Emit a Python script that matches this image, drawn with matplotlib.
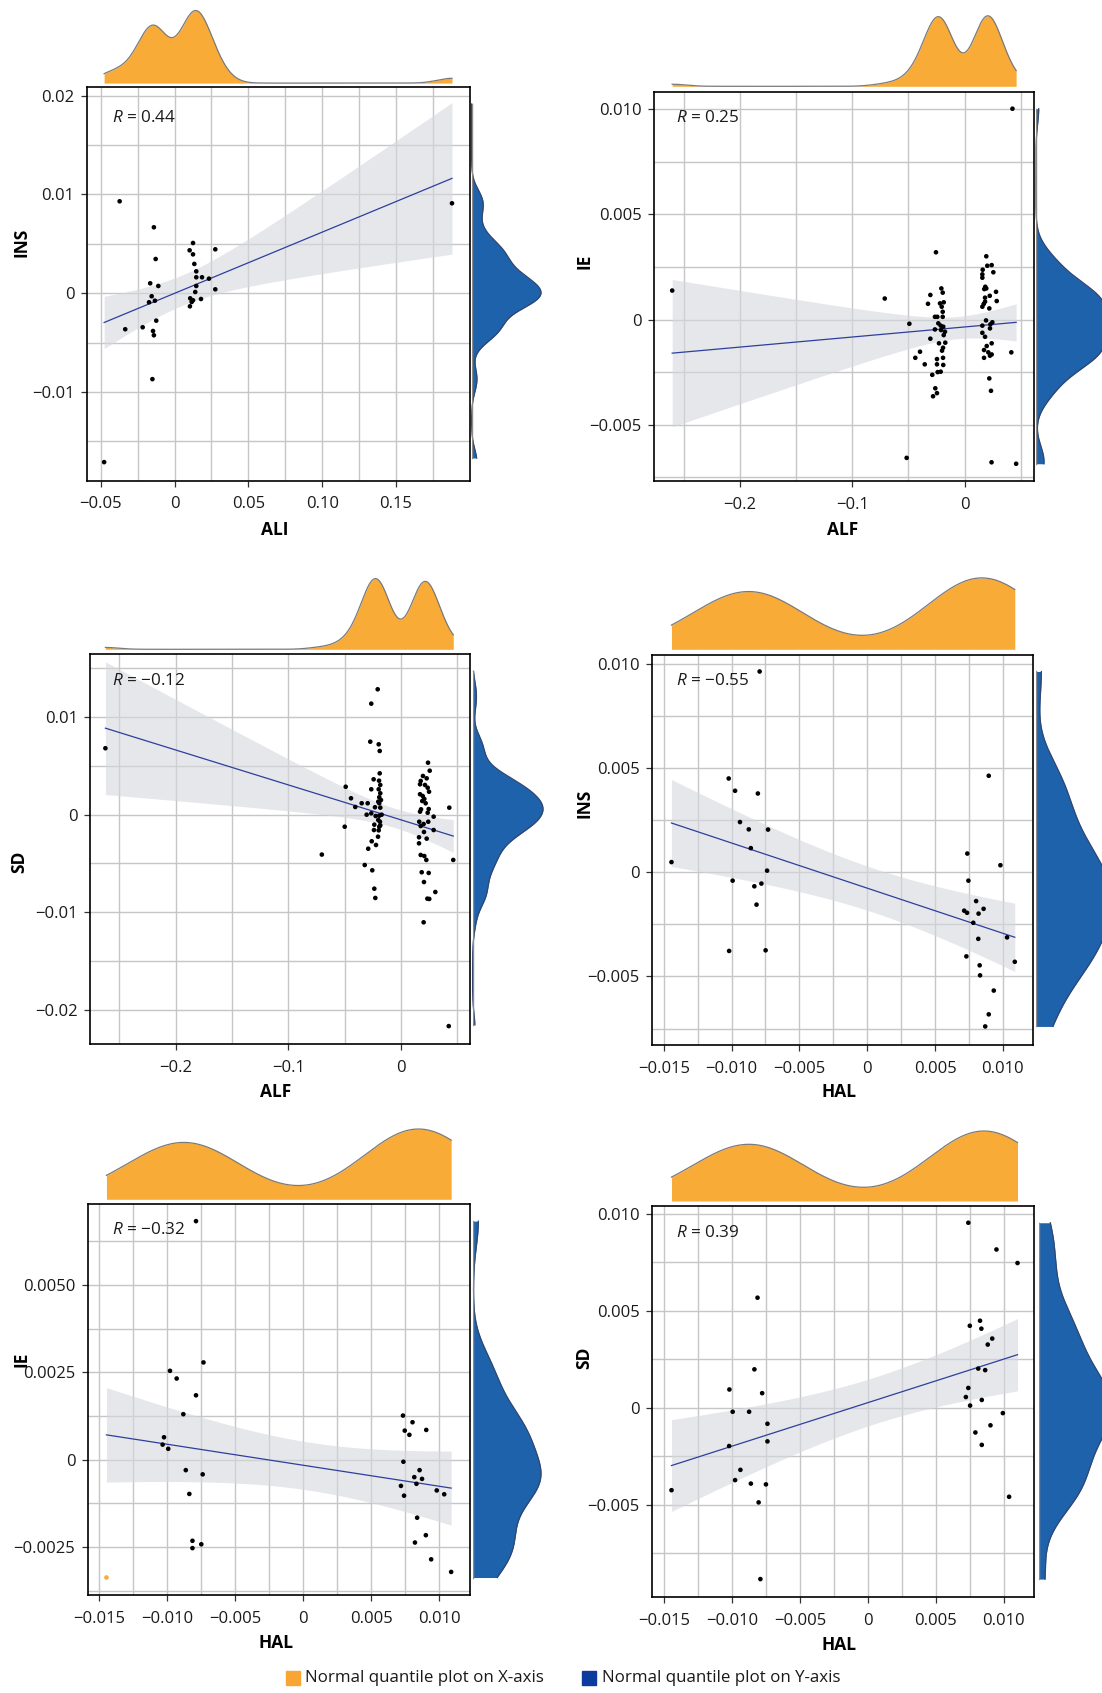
import numpy as np
import matplotlib
matplotlib.use("Agg")
import matplotlib.pyplot as plt
from matplotlib.patches import Rectangle

plt.rcParams['font.family'] = ['Open Sans', 'DejaVu Sans']
plt.rcParams['mathtext.fontset'] = 'custom'
plt.rcParams['mathtext.rm'] = 'Open Sans'
plt.rcParams['mathtext.it'] = 'Open Sans:italic'

# ---------------- data ----------------
# Panel 1: ALI vs INS
ali_p1 = [-0.0372, 0.1879, -0.0140, 0.0125, 0.0102, 0.0276, 0.0125, -0.0128, 0.0134, 0.0147,
          0.0147, 0.0186, 0.0233, -0.0165, -0.0110, 0.0147, 0.0276, 0.0140, -0.0155, 0.0106,
          0.0179, -0.0133, 0.0125, 0.0116, -0.0173, 0.0104, -0.0124, -0.0334, -0.0216, -0.0146,
          -0.0140, -0.0150, -0.0477]
ins_p1 = [0.0093, 0.0091, 0.00667, 0.00508, 0.00434, 0.00444, 0.00393, 0.00346, 0.00296, 0.00221,
          0.00161, 0.00161, 0.00147, 0.00100, 0.00073, 0.00073, 0.00039, 0.00012, -0.00031, -0.00052,
          -0.00059, -0.00076, -0.00072, -0.00089, -0.00092, -0.00133, -0.00278, -0.00365, -0.00345, -0.00383,
          -0.00426, -0.0087, -0.0171]

# Panel 2: ALF vs IE
alf_p2 = [-0.0255, -0.0207, -0.0195, -0.0305, -0.0326, -0.0219, -0.0186, -0.0204, -0.0195, -0.0264,
          -0.0243, -0.0195, -0.0492, -0.0234, -0.0213, -0.0190, -0.0264, -0.0210, -0.0175, -0.0186,
          -0.0305, -0.0228, -0.0172, -0.0192, -0.0201, -0.0397, -0.0439, -0.0246, -0.0192, -0.0355,
          -0.0246, -0.0190, -0.0240, -0.0213, -0.0288, -0.0261, -0.0246, -0.0281,
          0.0193, 0.0202, 0.0241, 0.0161, 0.0256, 0.0158, 0.0158, 0.0184, 0.0175, 0.0193,
          0.0280, 0.0224, 0.0182, 0.0286, 0.0182, 0.0170, 0.0158, 0.0220, 0.0191, 0.0247,
          0.0229, 0.0158, 0.0226, 0.0158, 0.0182, 0.0241, 0.0197, 0.0173, 0.0211, 0.0241,
          0.0226, 0.0173, 0.0416, 0.0220, 0.0235,
          -0.2604, -0.0711, 0.0426, -0.0516, 0.0240, 0.0459]
ie_p2 = [0.00320, 0.00148, 0.00128, 0.00117, 0.00075, 0.00077, 0.00082, 0.00061, 0.00037, 0.00013,
         0.00013, 0.00013, -0.00020, -0.00018, -0.00029, -0.00034, -0.00047, -0.00050, -0.00058, -0.00074,
         -0.00091, -0.00113, -0.00110, -0.00134, -0.00148, -0.00153, -0.00182, -0.00188, -0.00182, -0.00213,
         -0.00213, -0.00216, -0.00250, -0.00248, -0.00263, -0.00327, -0.00350, -0.00365,
         0.00301, 0.00256, 0.00259, 0.00237, 0.00225, 0.00215, 0.00199, 0.00156, 0.00145, 0.00148,
         0.00132, 0.00113, 0.00104, 0.00088, 0.00085, 0.00074, 0.00061, 0.00053, -0.00004, -0.00013,
         -0.00023, -0.00029, -0.00042, -0.00063, -0.00082, -0.00113, -0.00126, -0.00145, -0.00156, -0.00166,
         -0.00172, -0.00182, -0.00156, -0.00280, -0.00339,
         0.00138, 0.00100, 0.01003, -0.00658, -0.00679, -0.00686]

# Panel 3: ALF vs SD
alf_p3 = [-0.0206, -0.0263, -0.0272, -0.0197, -0.0188, 0.0241, 0.0256, -0.0188, 0.0196, 0.0229,
          -0.0242, -0.0194, 0.0176, 0.0170, 0.0214, -0.0183, -0.0490, 0.0238, -0.0263, -0.0197,
          0.0250, -0.0183, 0.0170, 0.0194, -0.0192, -0.0443, 0.0208, -0.0177, -0.0201, -0.0348,
          -0.0295, -0.0192, 0.0190, 0.0220, -0.0405, -0.0230, -0.0183, 0.0430, 0.0179, 0.0247,
          0.0170, 0.0238, -0.0304, -0.0263, -0.0224, -0.0171, -0.0192, 0.0291, -0.0201, 0.0163,
          -0.0186, 0.0243, 0.0202, -0.0236, -0.0183, -0.0499, 0.0176, -0.0192, -0.0239, 0.0291,
          -0.0197, 0.0205, -0.0203, 0.0161, 0.0229, -0.0259, 0.0161, -0.0221, -0.0290, 0.0176,
          0.0208, 0.0226, 0.0465, -0.0321, -0.0254, 0.0185, 0.0247, 0.0205, 0.0306, -0.0236,
          0.0235, 0.0252, -0.0227, 0.0202, -0.2624, -0.0702, 0.0425]
sd_p3 = [0.01282, 0.01135, 0.00746, 0.00719, 0.00651, 0.00531, 0.00449, 0.00422, 0.00395, 0.00371,
         0.00361, 0.00347, 0.00344, 0.00310, 0.00303, 0.00303, 0.00285, 0.00275, 0.00259, 0.00259,
         0.00234, 0.00218, 0.00208, 0.00190, 0.00177, 0.00167, 0.00160, 0.00149, 0.00132, 0.00116,
         0.00116, 0.00116, 0.00139, 0.00116, 0.00078, 0.00075, 0.00071, 0.00071, 0.00054, 0.00057,
         0.00030, 0.00019, -0.00001, 0.00013, -0.00014, -0.00001, -0.00011, -0.00021, -0.00055, -0.00073,
         -0.00073, -0.00073, -0.00096, -0.00103, -0.00110, -0.00124, -0.00117, -0.00124, -0.00158, -0.00158,
         -0.00161, -0.00178, -0.00226, -0.00232, -0.00246, -0.00273, -0.00294, -0.00311, -0.00349, -0.00413,
         -0.00424, -0.00464, -0.00464, -0.00516, -0.00570, -0.00590, -0.00597, -0.00690, -0.00792, -0.00758,
         -0.00860, -0.00863, -0.00853, -0.01102, 0.00679, -0.00409, -0.02164]

# Panel 4: HAL vs INS
hal_p4 = [-0.01443, -0.01021, -0.00974, -0.00806, -0.00938, -0.00873, -0.00731, -0.00858, -0.00738, -0.00992,
          -0.00832, -0.00780, -0.00816, -0.01018, -0.00749, -0.00793,
          0.00896, 0.00738, 0.00982, 0.00746, 0.00803, 0.00715, 0.00736, 0.00821, 0.00858, 0.00782,
          0.00819, 0.01031, 0.00731, 0.01088, 0.00829, 0.00832, 0.00933, 0.00896, 0.00870]
ins_p4 = [0.00048, 0.00449, 0.00390, 0.00377, 0.00240, 0.00205, 0.00204, 0.00115, 0.00007, -0.00041,
          -0.00068, -0.00055, -0.00156, -0.00378, -0.00375, 0.00962,
          0.00462, 0.00089, 0.00033, -0.00041, -0.00139, -0.00185, -0.00195, -0.00199, -0.00176, -0.00243,
          -0.00320, -0.00313, -0.00404, -0.00430, -0.00447, -0.00495, -0.00568, -0.00682, -0.00740]

# Panel 5: HAL vs IE (first point is drawn in orange in the original)
hal_p5 = [-0.01446, -0.00788, -0.00733, -0.00979, -0.00930, -0.00788, -0.00881, -0.01023, -0.01033, -0.00992,
          -0.00863, -0.00739, -0.00837, -0.00814, -0.00814, -0.00749,
          0.00733, 0.00803, 0.00746, 0.00904, 0.00780, 0.00736, 0.00855, 0.00816, 0.00873, 0.00832,
          0.00718, 0.00741, 0.00981, 0.01036, 0.00837, 0.00901, 0.00821, 0.00940, 0.01087]
ie_p5 = [-0.00337, 0.00682, 0.00278, 0.00254, 0.00232, 0.00184, 0.00130, 0.00064, 0.00043, 0.00031,
         -0.00030, -0.00042, -0.00098, -0.00232, -0.00253, -0.00242,
         0.00126, 0.00107, 0.00083, 0.00085, 0.00071, -0.00006, -0.00030, -0.00050, -0.00055, -0.00069,
         -0.00075, -0.00103, -0.00088, -0.00099, -0.00166, -0.00216, -0.00237, -0.00285, -0.00321]
p5_highlight = [0]

# Panel 6: HAL vs SD
hal_p6 = [-0.01445, -0.01019, -0.00995, -0.01021, -0.00977, -0.00938, -0.00874, -0.00861, -0.00835, -0.00812,
          -0.00804, -0.00791, -0.00778, -0.00750, -0.00739, -0.00739,
          0.00739, 0.00946, 0.01101, 0.00825, 0.00750, 0.00835, 0.00915, 0.00882, 0.00812, 0.00863,
          0.00739, 0.00721, 0.00752, 0.00838, 0.00993, 0.00902, 0.00791, 0.00838, 0.01039]
sd_p6 = [-0.00426, 0.00094, -0.00021, -0.00198, -0.00374, -0.00321, -0.00021, -0.00392, 0.00198, 0.00568,
         -0.00489, -0.00885, 0.00075, -0.00396, -0.00083, -0.00174,
         0.00955, 0.00817, 0.00747, 0.00449, 0.00423, 0.00408, 0.00357, 0.00326, 0.00202, 0.00194,
         0.00102, 0.00055, 0.00011, 0.00040, -0.00028, -0.00091, -0.00128, -0.00192, -0.00460]

r_labels = ["0.44", "0.25", "\u22120.12", "\u22120.55", "\u22120.32", "0.39"]
x_names = ["ALI", "ALF", "ALF", "HAL", "HAL", "HAL"]
y_names = ["INS", "IE", "SD", "INS", "IE", "SD"]

xt_ali = [-0.05, 0, 0.05, 0.10, 0.15]
xl_ali = ["\u22120.05", "0", "0.05", "0.10", "0.15"]
xt_alf = [-0.2, -0.1, 0]
xl_alf = ["\u22120.2", "\u22120.1", "0"]
xt_hal = [-0.015, -0.010, -0.005, 0, 0.005, 0.010]
xl_hal = ["\u22120.015", "\u22120.010", "\u22120.005", "0", "0.005", "0.010"]
yt_01 = [-0.02, -0.01, 0, 0.01, 0.02]
yl_01 = ["\u22120.02", "\u22120.01", "0", "0.01", "0.02"]
yt_005 = [-0.005, 0, 0.005, 0.010]
yl_005 = ["\u22120.005", "0", "0.005", "0.010"]
yt_0025 = [-0.0025, 0, 0.0025, 0.0050]
yl_0025 = ["\u22120.0025", "0", "0.0025", "0.0050"]

legend_labels = ["Normal quantile plot on X-axis", "Normal quantile plot on Y-axis"]

# ---------------- styling / layout ----------------
ORANGE = "#F9AB37"
BLUE = "#1F62AC"
LINE = "#2F3E9E"
GRID = "#C6C6C6"
W, H = 1102, 1693

fig = plt.figure(figsize=(W / 100, H / 100), dpi=100)


def rect(x0, y0, x1, y1):
    return [x0 / W, 1 - y1 / H, (x1 - x0) / W, (y1 - y0) / H]


def bw_nrd0(v):
    v = np.asarray(v)
    sd = v.std(ddof=1)
    q75, q25 = np.percentile(v, [75, 25])
    lo = min(sd, (q75 - q25) / 1.34)
    return 0.9 * lo * len(v) ** (-0.2)


def kde(v, grid):
    v = np.asarray(v)
    h = bw_nrd0(v)
    d = (grid[:, None] - v[None, :]) / h
    return np.exp(-0.5 * d ** 2).sum(axis=1) / (len(v) * h * np.sqrt(2 * np.pi))


def t975(df):
    z = 1.959964
    return (z + (z ** 3 + z) / (4 * df) + (5 * z ** 5 + 16 * z ** 3 + 3 * z) / (96 * df ** 2)
            + (3 * z ** 7 + 19 * z ** 5 + 17 * z ** 3 - 15 * z) / (384 * df ** 3))


def minors(ticks, lim):
    step = ticks[1] - ticks[0]
    m = np.arange(ticks[0] - step / 2, lim[1] + step, step)
    return [v for v in m if lim[0] < v < lim[1]]


panels = [
    dict(x=ali_p1, y=ins_p1, xt=xt_ali, xl=xl_ali, yt=yt_01, yl=yl_01,
         box=(87, 86.6, 470, 480.5), xlim=(-0.0593, 0.2001), ylim=(-0.01896, 0.02091),
         top=(10.5, 83.1), right=(471.6, 541), rng=(-0.01668, 0.01915),
         rpos=(112, 118.5), ylab=(21, 242), xlab=(275, 530)),
    dict(x=alf_p2, y=ie_p2, xt=xt_alf, xl=xl_alf, yt=yt_005, yl=yl_005,
         box=(654, 91.9, 1034, 481.2), xlim=(-0.2766, 0.0618), ylim=(-0.00769, 0.01083),
         top=(15.8, 86.3), right=(1036, 1108), rng=None,
         rpos=(675.7, 118.5), ylab=(584.4, 261), xlab=(842.6, 529.6)),
    dict(x=alf_p3, y=sd_p3, xt=xt_alf, xl=xl_alf, yt=yt_01, yl=yl_01,
         box=(90.3, 653.9, 469.8, 1043.9), xlim=(-0.2758, 0.0612), ylim=(-0.02346, 0.01644),
         top=(578.6, 649.3), right=(472.6, 543), rng=(-0.0215, 0.01465),
         rpos=(111.7, 680.7), ylab=(19.3, 861.8), xlab=(275.8, 1092)),
    dict(x=hal_p4, y=ins_p4, xt=xt_hal, xl=xl_hal, yt=yt_005, yl=yl_005,
         box=(652.2, 654.6, 1033.1, 1045), xlim=(-0.01585, 0.01223), ylim=(-0.00829, 0.01043),
         top=(577.9, 649.3), right=(1036, 1112), rng=None,
         rpos=(675.7, 680.7), ylab=(584.4, 802.9), xlab=(839, 1092)),
    dict(x=hal_p5, y=ie_p5, xt=xt_hal, xl=xl_hal, yt=yt_0025, yl=yl_0025,
         box=(87.8, 1204, 469.8, 1595), xlim=(-0.01583, 0.01224), ylim=(-0.00387, 0.00731),
         top=(1129, 1199.3), right=(473.3, 541), rng=None, hl=p5_highlight,
         rpos=(111.7, 1230.4), ylab=(21, 1359), xlab=(275.8, 1643)),
    dict(x=hal_p6, y=sd_p6, xt=xt_hal, xl=xl_hal, yt=yt_005, yl=yl_005,
         box=(652.2, 1205.9, 1034.1, 1596.9), xlim=(-0.01587, 0.01223), ylim=(-0.00977, 0.01042),
         top=(1131, 1201), right=(1039.4, 1112), rng=None,
         rpos=(675.7, 1233.3), ylab=(584.4, 1357.5), xlab=(839, 1645)),
]

for i, p in enumerate(panels):
    x = np.asarray(p["x"], float)
    y = np.asarray(p["y"], float)
    x0, y0, x1, y1 = p["box"]
    ax = fig.add_axes(rect(x0, y0, x1, y1))
    ax.set_axisbelow(True)

    # ticks & grid
    ax.set_xticks(p["xt"])
    ax.set_xticklabels(p["xl"])
    ax.set_yticks(p["yt"])
    ax.set_yticklabels(p["yl"])
    ax.set_xticks(minors(p["xt"], p["xlim"]), minor=True)
    ax.set_yticks(minors(p["yt"], p["ylim"]), minor=True)
    ax.set_xlim(*p["xlim"])
    ax.set_ylim(*p["ylim"])
    ax.grid(which="both", color=GRID, lw=1.0)
    ax.tick_params(which="major", length=4, width=0.9, color="#333333",
                   labelsize=12, labelcolor="#1a1a1a", pad=5)
    ax.tick_params(axis="x", which="major", pad=7.5)
    ax.tick_params(which="minor", length=0)
    for s in ax.spines.values():
        s.set_color("black")
        s.set_linewidth(1.2)

    # regression with 95% CI
    n = len(x)
    b, a = np.polyfit(x, y, 1)
    res = y - (a + b * x)
    s_err = np.sqrt((res ** 2).sum() / (n - 2))
    xm = x.mean()
    sxx = ((x - xm) ** 2).sum()
    xg = np.linspace(x.min(), x.max(), 120)
    yg = a + b * xg
    se = s_err * np.sqrt(1 / n + (xg - xm) ** 2 / sxx)
    tq = t975(n - 2)
    ax.fill_between(xg, yg - tq * se, yg + tq * se, color="#D5D8DC", alpha=0.6, lw=0, zorder=1)
    ax.plot(xg, yg, color=LINE, lw=0.9, zorder=2)

    cols = np.array(["black"] * n, dtype=object)
    for k in p.get("hl", []):
        cols[k] = ORANGE
    ax.scatter(x, y, s=11, c=list(cols), lw=0, zorder=3)

    # labels
    ax.set_xlabel(x_names[i], fontsize=12.5, fontweight="bold")
    ax.set_ylabel(y_names[i], fontsize=12.5, fontweight="bold")
    ax.xaxis.set_label_coords(p["xlab"][0] / W, 1 - p["xlab"][1] / H, transform=fig.transFigure)
    ax.yaxis.set_label_coords(p["ylab"][0] / W, 1 - p["ylab"][1] / H, transform=fig.transFigure)
    ax.xaxis.label.set_va("center")
    ax.yaxis.label.set_va("center")
    fig.text(p["rpos"][0] / W, 1 - p["rpos"][1] / H, r"$\it{R}$ = " + r_labels[i],
             fontsize=12.3, ha="left", va="center", color="#1a1a1a")

    # top marginal density (x)
    tp, tb = p["top"]
    axt = fig.add_axes(rect(x0, tp, x1, tb))
    gx = np.linspace(x.min(), x.max(), 400)
    dx = kde(x, gx)
    axt.fill_between(gx, 0, dx, color=ORANGE, lw=0)
    axt.plot(gx, dx, color="#7a7a7a", lw=0.9, clip_on=False)
    axt.set_xlim(*p["xlim"])
    axt.set_ylim(0, dx.max())
    axt.axis("off")

    # right marginal density (y)
    rl, rp = p["right"]
    axr = fig.add_axes(rect(rl, y0, rp, y1))
    lo, hi = p["rng"] if p["rng"] is not None else (y.min(), y.max())
    gy = np.linspace(lo, hi, 400)
    dy = kde(y, gy)
    axr.fill_betweenx(gy, 0, dy, color=BLUE, lw=0)
    axr.plot(dy, gy, color="#33466e", lw=0.9, clip_on=False)
    axr.plot([0, 0], [lo, hi], color="#8a8a8a", lw=1.0)
    axr.set_ylim(*p["ylim"])
    axr.set_xlim(0, dy.max())
    axr.axis("off")

# legend
fig.patches.append(Rectangle((286 / W, 1 - 1685 / H), 14 / W, 14 / H,
                             transform=fig.transFigure, color="#F9A533"))
fig.text(305 / W, 1 - 1678 / H, legend_labels[0], fontsize=12.2, va="center", ha="left", color="#1a1a1a")
fig.patches.append(Rectangle((582 / W, 1 - 1685 / H), 14 / W, 14 / H,
                             transform=fig.transFigure, color="#0D3A9E"))
fig.text(602 / W, 1 - 1678 / H, legend_labels[1], fontsize=12.2, va="center", ha="left", color="#1a1a1a")

fig.savefig("out.png", dpi=100)
